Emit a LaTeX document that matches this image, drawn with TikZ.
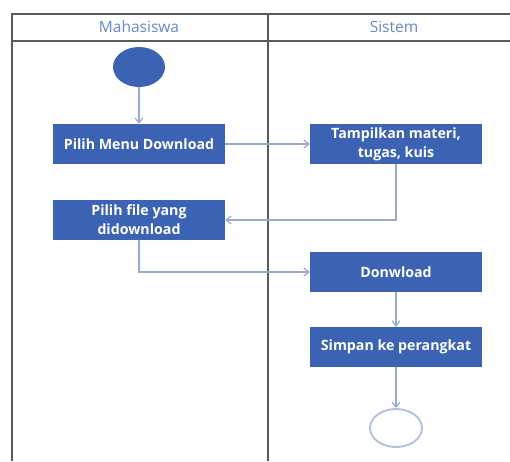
\documentclass[tikz,border=0pt]{standalone}
\usepackage{fontspec}
\setmainfont{Open Sans}
\usetikzlibrary{arrows.meta,shapes.geometric}
\definecolor{actBlue}{RGB}{60,98,180}
\definecolor{flowGrey}{RGB}{150,170,210}
\definecolor{laneGrey}{RGB}{90,90,90}
\definecolor{headBlue}{RGB}{100,135,205}
\begin{document}
\begin{tikzpicture}[x=1pt, y=-1pt,
    actStyle/.style={rectangle, fill=actBlue, text=white, minimum width=172pt, minimum height=40pt, align=center, font=\bfseries\fontsize{14.2}{19}\selectfont, inner sep=1pt},
    startStyle/.style={ellipse, fill=actBlue, minimum width=52pt, minimum height=40pt, inner sep=0pt},
    endStyle/.style={ellipse, draw=flowGrey!70, line width=2pt, minimum width=52pt, minimum height=38pt, inner sep=0pt},
    flowStyle/.style={draw=flowGrey, line width=1.2pt, -{Straight Barb[length=5pt,width=8pt]}},
    laneStyle/.style={draw=laneGrey, line width=1.6pt},
    headStyle/.style={text=headBlue, font=\fontsize{15.5}{17}\selectfont}]
    \useasboundingbox (0,0) rectangle (510,461);
    % swimlanes
    \draw[laneStyle] (12,461) -- (12,14) -- (510,14);
    \draw[laneStyle] (12,41) -- (510,41);
    \draw[laneStyle] (268,14) -- (268,461);
    \node[headStyle] (lane_0) at (139,27) {Mahasiswa};
    \node[headStyle] (lane_1) at (394,27) {Sistem};
    % activities
    \node[startStyle] (start) at (139,67) {};
    \node[actStyle] (act_0) at (139,144) {Pilih Menu Download};
    \node[actStyle] (act_1) at (396,144) {Tampilkan materi,\\tugas, kuis};
    \node[actStyle] (act_2) at (139,220) {Pilih file yang\\didownload};
    \node[actStyle] (act_3) at (396,272) {Donwload};
    \node[actStyle] (act_4) at (396,347) {Simpan ke perangkat};
    \node[endStyle] (stop) at (396,428) {};
    % flows
    \draw[flowStyle] (start) -- (act_0);
    \draw[flowStyle] (act_0) -- (act_1);
    \draw[flowStyle] (act_1.south) |- (act_2.east);
    \draw[flowStyle] (act_2.south) |- (act_3.west);
    \draw[flowStyle] (act_3) -- (act_4);
    \draw[flowStyle] (act_4) -- (stop);
\end{tikzpicture}
\end{document}
